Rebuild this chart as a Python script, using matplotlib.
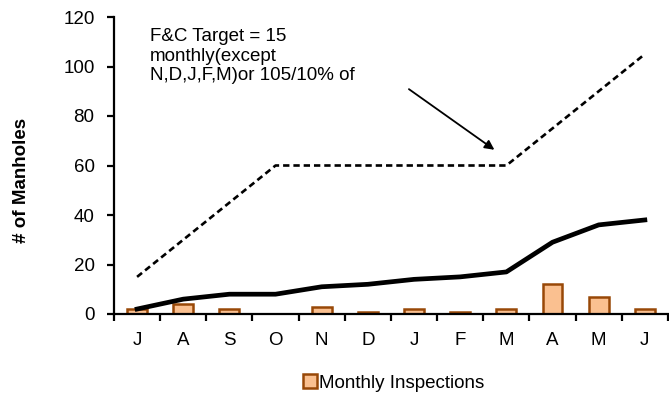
import matplotlib.pyplot as plt
import numpy as np

plt.rcParams['font.family'] = ['Liberation Sans', 'DejaVu Sans']

months = ['J', 'A', 'S', 'O', 'N', 'D', 'J', 'F', 'M', 'A', 'M', 'J']
monthly = [2, 4, 2, 0, 3, 1, 2, 1, 2, 12, 7, 2]
cumulative = [2, 6, 8, 8, 11, 12, 14, 15, 17, 29, 36, 38]
target = [15, 30, 45, 60, 60, 60, 60, 60, 60, 75, 90, 105]

x = np.arange(len(months))
fs = 13.5

fig = plt.figure(figsize=(6.69, 4.0), dpi=100)
ax = fig.add_axes([0.1704, 0.215, 0.828, 0.7425])

ax.bar(x, monthly, width=0.43, color='#FAC090', edgecolor='#984807',
       linewidth=1.8, label='Monthly Inspections', zorder=2)
ax.plot(x, cumulative, color='black', linewidth=3.4, zorder=3)
ax.plot(x, target, color='black', linewidth=1.9, linestyle=(0, (2.4, 1.5)), zorder=3)

ax.set_xlim(-0.5, len(months) - 0.5)
ax.set_ylim(0, 120)
ax.set_yticks(range(0, 121, 20))
ax.set_xticks(x)
ax.set_xticklabels(months)
# category boundaries get the tick marks, labels sit in between
ax.set_xticks(np.arange(-0.5, len(months), 1), minor=True)
ax.tick_params(axis='x', which='major', length=0, pad=13, labelsize=fs)
ax.tick_params(axis='x', which='minor', length=5, width=1.6, direction='out')
ax.tick_params(axis='y', length=5, width=1.6, labelsize=fs, pad=9)

for side in ['top', 'right']:
    ax.spines[side].set_visible(False)
for side in ['left', 'bottom']:
    ax.spines[side].set_linewidth(1.6)

fig.text(22 / 669, 1 - 180 / 400, '# of Manholes', fontsize=fs, fontweight='bold',
         rotation=90, ha='center', va='center')

ax.text(0.28, 115.5, 'F&C Target = 15\nmonthly(except\nN,D,J,F,M)or 105/10% of',
        fontsize=fs, va='top', ha='left', linespacing=1.2)
ax.annotate('', xy=(7.79, 65.7), xytext=(5.84, 91.5),
            arrowprops=dict(arrowstyle='-|>', color='black', lw=1.3,
                            mutation_scale=14))

fig.legend(*ax.get_legend_handles_labels(), loc='center',
           bbox_to_anchor=(394 / 669, 1 - 383 / 400), frameon=False,
           fontsize=fs, handlelength=0.7, handleheight=0.7, handletextpad=0.15)

plt.savefig('out.png', dpi=100)
